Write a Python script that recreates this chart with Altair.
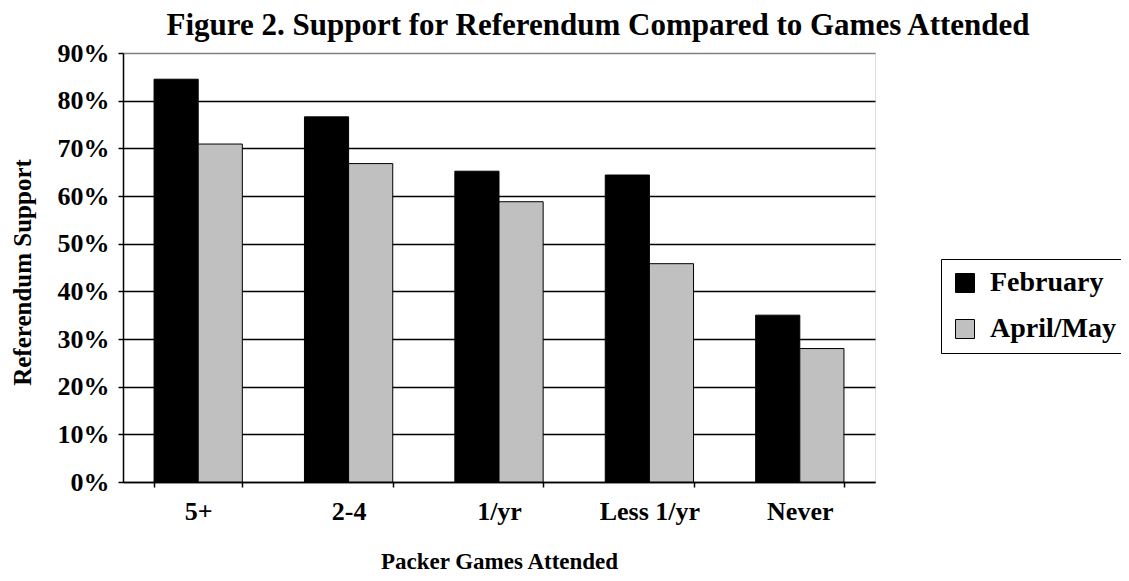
import altair as alt
import pandas as pd

categories = ["5+", "2-4", "1/yr", "Less 1/yr", "Never"]
series_names = ["February", "April/May"]
february = [0.845, 0.766, 0.652, 0.644, 0.350]
april_may = [0.709, 0.668, 0.588, 0.458, 0.280]
y_ticks = [0.0, 0.1, 0.2, 0.3, 0.4, 0.5, 0.6, 0.7, 0.8, 0.9]

rows = []
for c, f, a in zip(categories, february, april_may):
    rows.append({"games": c, "series": series_names[0], "support": f})
    rows.append({"games": c, "series": series_names[1], "support": a})
df = pd.DataFrame(rows)

FONT = "Liberation Serif"

chart = alt.Chart(df).mark_bar(stroke="black", strokeWidth=1).encode(
    x=alt.X(
        "games:N",
        sort=categories,
        scale=alt.Scale(paddingInner=0.413, paddingOuter=0.2065),
        axis=alt.Axis(
            title="Packer Games Attended",
            labelAngle=0,
            tickBand="extent",
            tickSize=5,
            tickColor="black",
            tickWidth=1.5,
            domainColor="black",
            domainWidth=1.5,
            labelFont=FONT,
            labelFontSize=26,
            labelFontWeight="bold",
            labelColor="black",
            labelBaseline="alphabetic",
            labelPadding=32,
            titleFont=FONT,
            titleFontSize=23,
            titleFontWeight="bold",
            titleColor="black",
            titleBaseline="alphabetic",
            titleY=86,
            grid=False,
        ),
    ),
    xOffset=alt.XOffset("series:N", sort=series_names, scale=alt.Scale(paddingInner=0, paddingOuter=0)),
    y=alt.Y(
        "support:Q",
        scale=alt.Scale(domain=[0, 0.9], nice=False),
        axis=alt.Axis(
            title="Referendum Support",
            format=".0%",
            values=y_ticks,
            tickSize=5,
            tickColor="black",
            tickWidth=1.5,
            domainColor="black",
            domainWidth=1.5,
            gridColor={"condition": {"test": "datum.value >= 0.89", "value": "#808080"}, "value": "black"},
            gridWidth=1.5,
            labelFont=FONT,
            labelFontSize=26,
            labelFontWeight="bold",
            labelColor="black",
            labelPadding=9,
            titleFont=FONT,
            titleFontSize=25,
            titleFontWeight="bold",
            titleColor="black",
            titleAngle=270,
            titleAlign="center",
            titleBaseline="middle",
            titleX=-101,
            titleY=219,
        ),
    ),
    color=alt.Color(
        "series:N",
        sort=series_names,
        scale=alt.Scale(domain=series_names, range=["#000000", "#c0c0c0"]),
        legend=alt.Legend(
            title=None,
            orient="none",
            legendX=818,
            legendY=206,
            strokeColor="black",
            padding=10,
            symbolType="square",
            symbolSize=361,
            symbolStrokeColor="black",
            symbolStrokeWidth=1,
            symbolOpacity=1,
            labelFont=FONT,
            labelFontSize=28,
            labelFontWeight="bold",
            labelColor="black",
            labelOffset=11,
            rowPadding=18,
        ),
    ),
).properties(
    width=752,
    height=429,
    autosize=alt.AutoSizeParams(type="none"),
    padding={"left": 115, "top": 45, "right": 246, "bottom": 91},
    title=alt.TitleParams(
        text="Figure 2. Support for Referendum Compared to Games Attended",
        font=FONT,
        fontSize=31,
        fontWeight="bold",
        color="black",
        anchor="middle",
        dx=99,
        dy=4,
        offset=2,
    ),
).configure_view(
    stroke="#808080", strokeWidth=1.5
).configure_legend(
    strokeWidth=2
).configure(background="white")

chart.save("out.html", embed_options={"renderer": "svg", "actions": False})
